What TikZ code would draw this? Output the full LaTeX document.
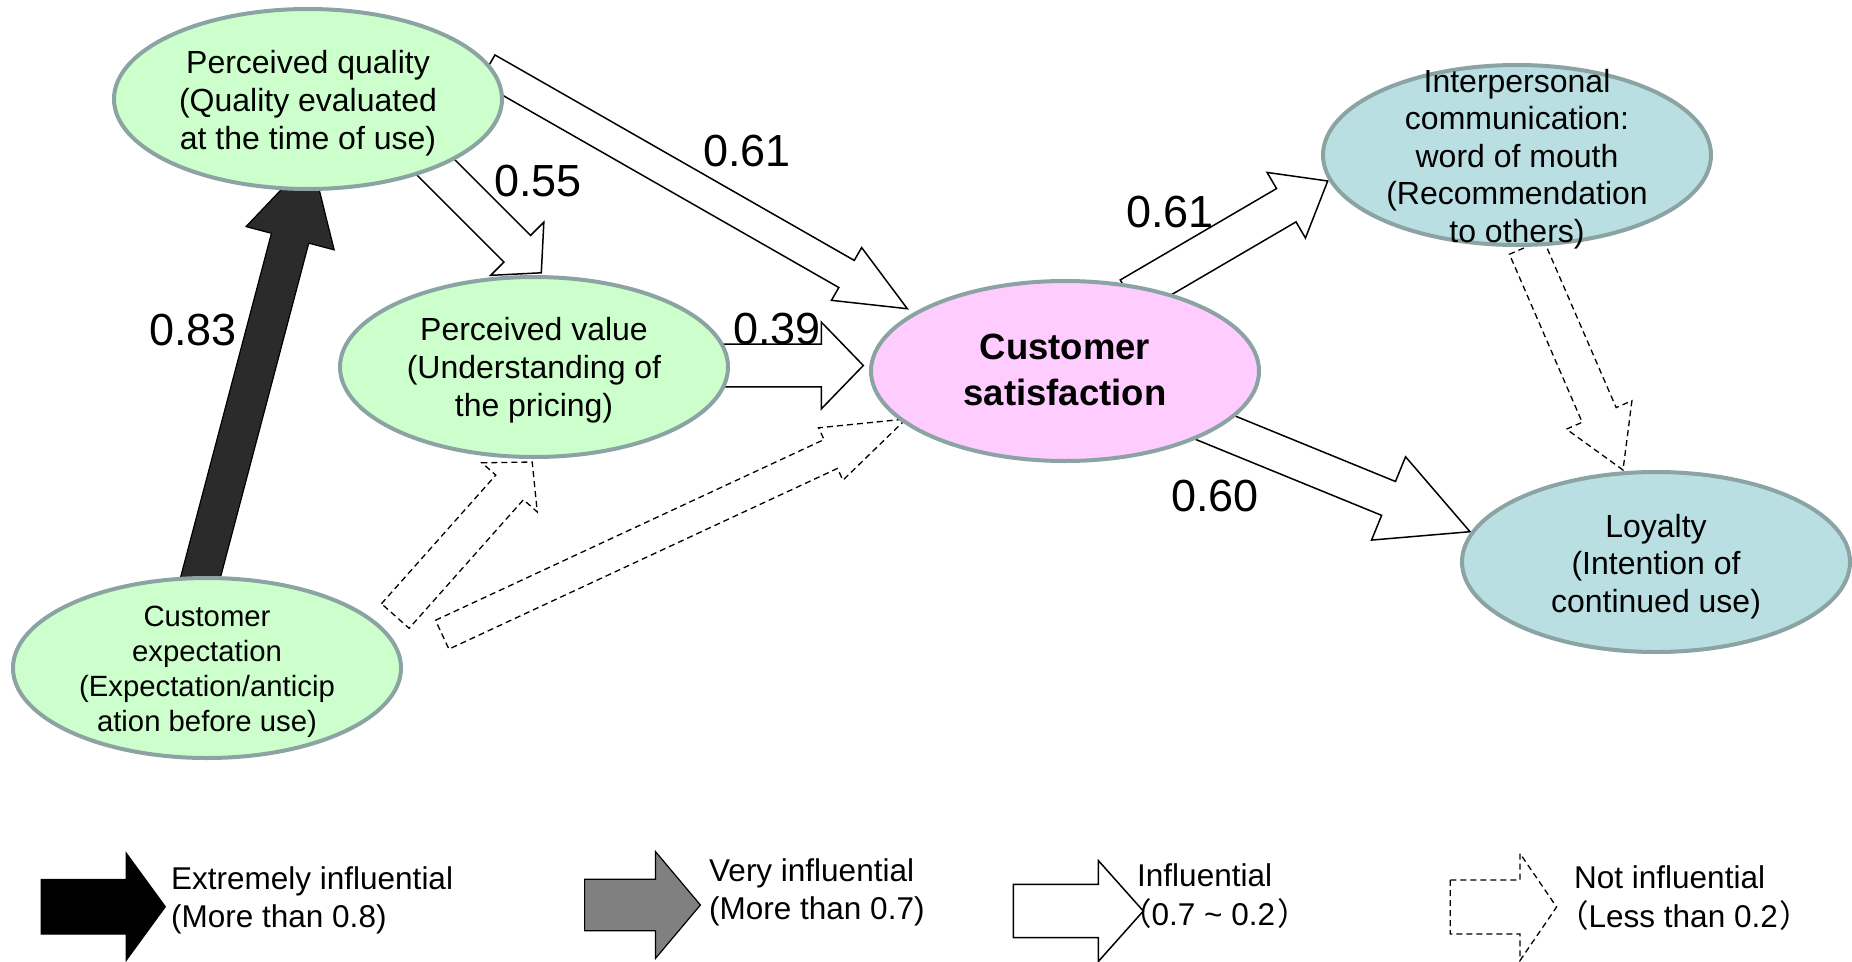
\documentclass[tikz,border=0pt]{standalone}
\usepackage{fontspec}
\setmainfont{Liberation Sans}
\newfontfamily\cjkfont{Noto Sans CJK SC}
\usetikzlibrary{shapes.geometric,calc}
\pgfdeclarelayer{bg}
\pgfsetlayers{bg,main}

\definecolor{qgreen}{HTML}{CCFFCC}
\definecolor{spink}{HTML}{FFCCFF}
\definecolor{oblue}{HTML}{B9DFE2}
\definecolor{rimgray}{HTML}{8BA3A3}
\definecolor{heavyfill}{HTML}{2B2B2B}
\definecolor{midgray}{HTML}{808080}

\tikzset{
  factor/.style={ellipse, draw=rimgray, line width=4pt, minimum width=388pt,
    minimum height=180pt, inner sep=0pt},
  ftext/.style={align=center, inner sep=0pt, font=\fontsize{32}{38}\selectfont},
  coef/.style={anchor=base west, inner sep=0pt, font=\fontsize{45}{54}\selectfont},
  legtext/.style={anchor=base west, inner sep=0pt, font=\fontsize{31.5}{40}\selectfont},
  solidarrow/.style={draw=black, line width=1.5pt, fill=white, line join=miter},
  weakarrow/.style={draw=black, line width=1.3pt, fill=white, dash pattern=on 6pt off 4pt},
  strongarrow/.style={draw=black, line width=1.2pt, fill=heavyfill},
}

% full-width parentheses
\newcommand\fwopen{{\cjkfont\kern-17pt （}}
\newcommand\fwclose{{\cjkfont\kern2pt ）}}

% block arrow: {style}{start}{tip}{shaft half width}{head half width}{head length}
\newcommand\blockarrow[6]{%
  \coordinate (ba-s) at (#2);
  \coordinate (ba-t) at (#3);
  \coordinate (ba-b) at ($(ba-t)!#6!(ba-s)$);
  \draw[#1] ($(ba-s)!#4!90:(ba-t)$) -- ($(ba-b)!#4!-90:(ba-s)$)
    -- ($(ba-b)!#5!-90:(ba-s)$) -- (ba-t) -- ($(ba-b)!#5!90:(ba-s)$)
    -- ($(ba-b)!#4!90:(ba-s)$) -- ($(ba-s)!#4!-90:(ba-t)$) -- cycle;
}

\begin{document}
\begin{tikzpicture}[x=1pt, y=-1pt]
\useasboundingbox (0,0) rectangle (1852,961);

% factors of the model
\node[factor, fill=qgreen] (pq) at (308,99) {};
\node[factor, fill=qgreen] (pv) at (534,367) {};
\node[factor, fill=qgreen] (ce) at (207,668) {};
\node[factor, fill=spink]  (cs) at (1065,371) {};
\node[factor, fill=oblue]  (ic) at (1517,155) {};
\node[factor, fill=oblue]  (lo) at (1656,562) {};

\node[ftext] (pq-t) at ($(pq)+(0,3.75)$) {Perceived quality\\(Quality evaluated\\at the time of use)};
\node[ftext] (pv-t) at ($(pv)+(0,3)$) {Perceived value\\(Understanding of\\the pricing)};
\node[ftext, font=\fontsize{29.3}{35}\selectfont] (ce-t) at ($(ce)+(0,3.8)$)
  {Customer\\expectation\\(Expectation/anticip\\ation before use)};
\node[ftext, font=\fontsize{36.5}{45.5}\selectfont\bfseries] (cs-t) at ($(cs)+(0,-1.25)$)
  {Customer\\satisfaction};
\node[ftext, font=\fontsize{32}{37.5}\selectfont] (ic-t) at ($(ic)+(0,3.75)$)
  {Interpersonal\\communication:\\word of mouth\\(Recommendation\\to others)};
\node[ftext, font=\fontsize{32}{37.3}\selectfont] (lo-t) at ($(lo)+(0,4.7)$)
  {Loyalty\\(Intention of\\continued use)};

% paths of influence, kept behind the factors
\begin{pgfonlayer}{bg}
\fill[white] (0,0) rectangle (1852,961);
\blockarrow{strongarrow}{$(ce)+(-17.8,-47.8)$}{$(pq)+(3.3,59)$}{19.3pt}{45.6pt}{83pt}
\blockarrow{solidarrow}{$(pq)+(99.3,39.8)$}{$(pv)+(7.3,-94.2)$}{18.8pt}{37.6pt}{34pt}
\blockarrow{solidarrow}{$(pq)+(179.2,-30.5)$}{$(cs)+(-157.7,-62.3)$}{15.6pt}{30.4pt}{70pt}
\blockarrow{solidarrow}{$(pv)+(166,-1.5)$}{$(cs)+(-201.7,-5.5)$}{21.3pt}{43.4pt}{42pt}
\blockarrow{weakarrow}{$(ce)+(188.3,-52)$}{$(pv)+(-1.8,95)$}{18.5pt}{37pt}{34pt}
\blockarrow{weakarrow}{$(ce)+(235.2,-33.3)$}{$(cs)+(-159,48)$}{15.9pt}{28.9pt}{83pt}
\blockarrow{solidarrow}{$(cs)+(65,-74.4)$}{$(ic)+(-189.3,26)$}{19.3pt}{38pt}{48pt}
\blockarrow{solidarrow}{$(cs)+(110.5,40.4)$}{$(lo)+(-186,-30.3)$}{18.3pt}{45pt}{88pt}
\blockarrow{weakarrow}{$(ic)+(9.4,91.9)$}{$(lo)+(-33,-92)$}{18.5pt}{35.7pt}{60pt}
\end{pgfonlayer}

% path coefficients
\node[coef] (k83)  at (149,345)    {0.83};
\node[coef] (k55)  at (494,196.7)  {0.55};
\node[coef] (k61a) at (703,166.7)  {0.61};
\node[coef] (k39)  at (733,344)    {0.39};
\node[coef] (k61b) at (1126,227.3) {0.61};
\node[coef] (k60)  at (1171,511.7) {0.60};

% legend
\blockarrow{strongarrow, fill=black}{41.3,906.7}{165.3,906.7}{27.3pt}{53.5pt}{39pt}
\blockarrow{strongarrow, fill=midgray}{584.6,905}{700.4,905}{25.7pt}{53.5pt}{45pt}
\blockarrow{solidarrow}{1013.3,911}{1143.3,911}{26.7pt}{50.5pt}{45pt}
\blockarrow{weakarrow}{1450.3,907}{1556.6,907}{27pt}{53.5pt}{36.6pt}

\node[legtext] (l1a) at (171,889)  {Extremely influential};
\node[legtext] (l1b) at (171,927)  {(More than 0.8)};
\node[legtext] (l2a) at (709,881)  {Very influential};
\node[legtext] (l2b) at (709,919)  {(More than 0.7)};
\node[legtext] (l3a) at (1137,886) {Influential};
\node[legtext] (l3b) at (1137,925) {\fwopen0.7 \textasciitilde{} 0.2\fwclose};
\node[legtext] (l4a) at (1574,888) {Not influential};
\node[legtext] (l4b) at (1574,927) {\fwopen Less than 0.2\fwclose};
\end{tikzpicture}
\end{document}
